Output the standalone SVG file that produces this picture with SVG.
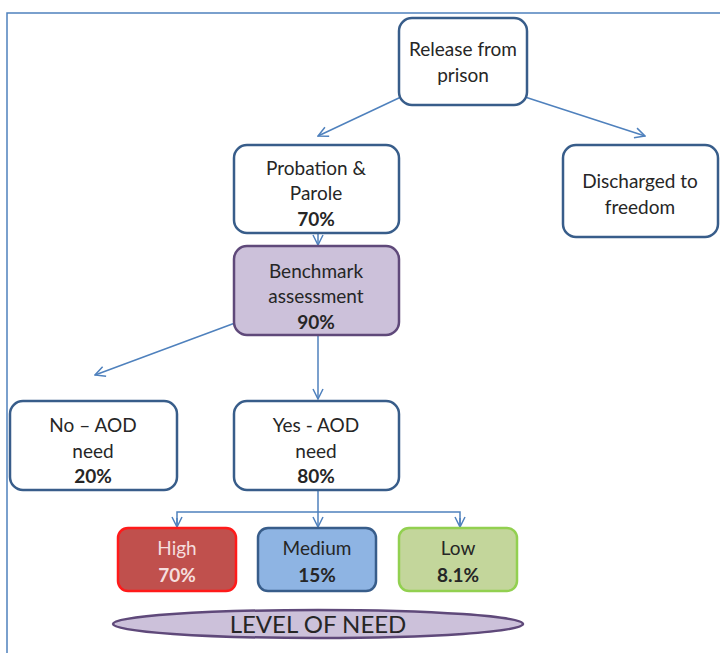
<svg xmlns="http://www.w3.org/2000/svg" width="720" height="653" viewBox="0 0 720 653">
<style>
text{font-family:Lato,"Liberation Sans",sans-serif;font-size:19px;fill:#262626;text-anchor:middle}
.b{font-weight:bold}
.box{fill:#fff;stroke:#385d8a;stroke-width:2.5}
.con{fill:none;stroke:#4f81bd;stroke-width:1.5}
</style>
<defs>
<marker id="ar" viewBox="0 0 12 12" refX="11" refY="6" markerWidth="12" markerHeight="12" markerUnits="userSpaceOnUse" orient="auto">
<path d="M1,1 L11,6 L1,11" fill="none" stroke="#4f81bd" stroke-width="1.5"/>
</marker>
</defs>
<rect x="0" y="0" width="720" height="653" fill="#fff"/>
<path d="M7,660 V13 H722" fill="none" stroke="#4f81bd" stroke-width="1.5"/>
<g id="connectors">
<line class="con" x1="401" y1="97" x2="318" y2="136" marker-end="url(#ar)"/>
<line class="con" x1="525" y1="97" x2="645" y2="136" marker-end="url(#ar)"/>
<line class="con" x1="318" y1="233" x2="318" y2="245" marker-end="url(#ar)"/>
<line class="con" x1="235" y1="323" x2="95" y2="375" marker-end="url(#ar)"/>
<line class="con" x1="318" y1="336" x2="318" y2="399" marker-end="url(#ar)"/>
<line class="con" x1="318" y1="491" x2="318" y2="527" marker-end="url(#ar)"/>
<path class="con" d="M177,527 V512 H460 V527" />
<line class="con" x1="177" y1="518" x2="177" y2="527" marker-end="url(#ar)"/>
<line class="con" x1="460" y1="518" x2="460" y2="527" marker-end="url(#ar)"/>
</g>
<g id="release">
<rect class="box" x="399" y="18" width="128" height="87" rx="13"/>
<text x="463" y="56">Release from</text>
<text x="463" y="82">prison</text>
</g>
<g id="probation">
<rect class="box" x="234" y="145" width="165" height="88" rx="13"/>
<text x="316" y="175">Probation &amp;</text>
<text x="316" y="200">Parole</text>
<text class="b" x="316" y="226">70%</text>
</g>
<g id="discharged">
<rect class="box" x="563" y="145" width="155" height="92" rx="13"/>
<text x="640" y="188">Discharged to</text>
<text x="640" y="214">freedom</text>
</g>
<g id="benchmark">
<rect x="234" y="246" width="165" height="89" rx="13" fill="#ccc1da" stroke="#5f497a" stroke-width="2.5"/>
<text x="316" y="278">Benchmark</text>
<text x="316" y="303">assessment</text>
<text class="b" x="316" y="329">90%</text>
</g>
<g id="no-aod">
<rect class="box" x="10" y="401" width="167" height="89" rx="13"/>
<text x="93" y="432">No – AOD</text>
<text x="93" y="458">need</text>
<text class="b" x="93" y="483">20%</text>
</g>
<g id="yes-aod">
<rect class="box" x="234" y="401" width="165" height="89" rx="13"/>
<text x="316" y="432">Yes - AOD</text>
<text x="316" y="458">need</text>
<text class="b" x="316" y="483">80%</text>
</g>
<g id="high">
<rect x="118" y="528" width="118" height="63" rx="10" fill="#c0504d" stroke="#ff1a1a" stroke-width="2.5"/>
<text x="177" y="555" style="fill:#f5dede">High</text>
<text class="b" x="177" y="582" style="fill:#f5dede">70%</text>
</g>
<g id="medium">
<rect x="258" y="528" width="118" height="63" rx="10" fill="#8eb4e3" stroke="#385d8a" stroke-width="2.5"/>
<text x="317" y="555">Medium</text>
<text class="b" x="317" y="582">15%</text>
</g>
<g id="low">
<rect x="399" y="528" width="118" height="63" rx="10" fill="#c3d69b" stroke="#92d050" stroke-width="2.5"/>
<text x="458" y="555">Low</text>
<text class="b" x="458" y="582">8.1%</text>
</g>
<g id="level">
<ellipse cx="318" cy="624" rx="205" ry="14" fill="#ccc1da" stroke="#5f497a" stroke-width="2.5"/>
<text x="318" y="633" style="font-size:24px">LEVEL OF NEED</text>
</g>
</svg>
